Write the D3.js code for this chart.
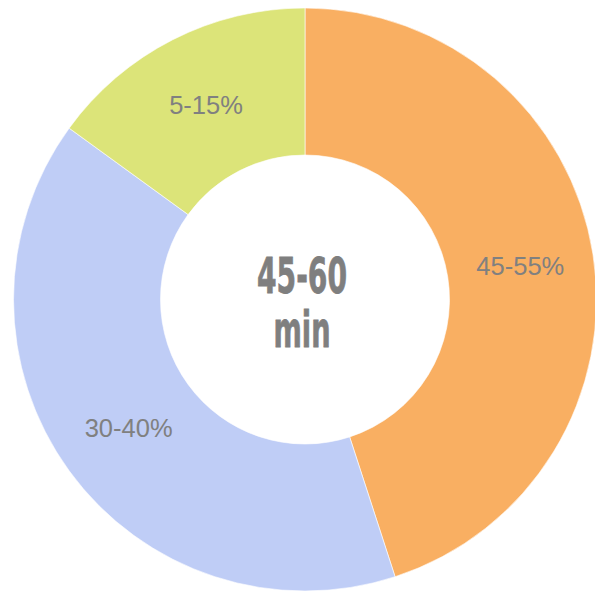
<!DOCTYPE html>
<html>
<head>
<meta charset="utf-8">
<script src="https://cdn.jsdelivr.net/npm/d3@7"></script>
<style>
  html, body { margin: 0; padding: 0; background: #fff; }
  svg { display: block; }
</style>
</head>
<body>
<svg id="chart" width="595" height="592"></svg>
<script>
// Datos del gráfico
const categories = ["45-55%", "30-40%", "5-15%"];
const values = [45, 40, 15];
const colors = ["#F9AF62", "#BFCDF6", "#DCE479"];
const centerLines = ["45-60", "min"];

const svg = d3.select("#chart");
const cx = 305, cy = 299.5;
const outerR = 291.5, innerR = 144.5;

const pie = d3.pie().sort(null).value(d => d.value);
const arcs = pie(categories.map((c, i) => ({ label: c, value: values[i], color: colors[i] })));

const arc = d3.arc().innerRadius(innerR).outerRadius(outerR);

const g = svg.append("g").attr("transform", `translate(${cx},${cy})`);

// Sectores
g.selectAll("path")
    .data(arcs)
    .enter()
    .append("path")
    .attr("d", arc)
    .attr("fill", d => d.data.color)
    .attr("stroke", "#fff")
    .attr("stroke-width", 0.6);

// Etiquetas
g.selectAll(".label")
    .data(arcs)
    .enter()
    .append("text")
    .attr("class", "label")
    .attr("transform", d => `translate(${arc.centroid(d)})`)
    .attr("dy", "0.36em")
    .attr("text-anchor", "middle")
    .attr("font-family", "'Liberation Sans', Arial, sans-serif")
    .attr("font-size", 25.5)
    .attr("fill", "#808080")
    .text(d => d.data.label);

// Texto central
const centerText = [
    { t: centerLines[0], y: -6.5, w: 90 },
    { t: centerLines[1], y: 47.5, w: 57 }
];
g.selectAll(".center")
    .data(centerText)
    .enter()
    .append("text")
    .attr("class", "center")
    .attr("x", -3)
    .attr("y", d => d.y)
    .attr("text-anchor", "middle")
    .attr("font-family", "'DejaVu Sans Condensed', 'DejaVu Sans', sans-serif")
    .attr("font-weight", "bold")
    .attr("font-size", 49)
    .attr("textLength", d => d.w)
    .attr("lengthAdjust", "spacingAndGlyphs")
    .attr("fill", "#7f7f7f")
    .attr("stroke", "#7f7f7f")
    .attr("stroke-width", 0.8)
    .text(d => d.t);
</script>
</body>
</html>
